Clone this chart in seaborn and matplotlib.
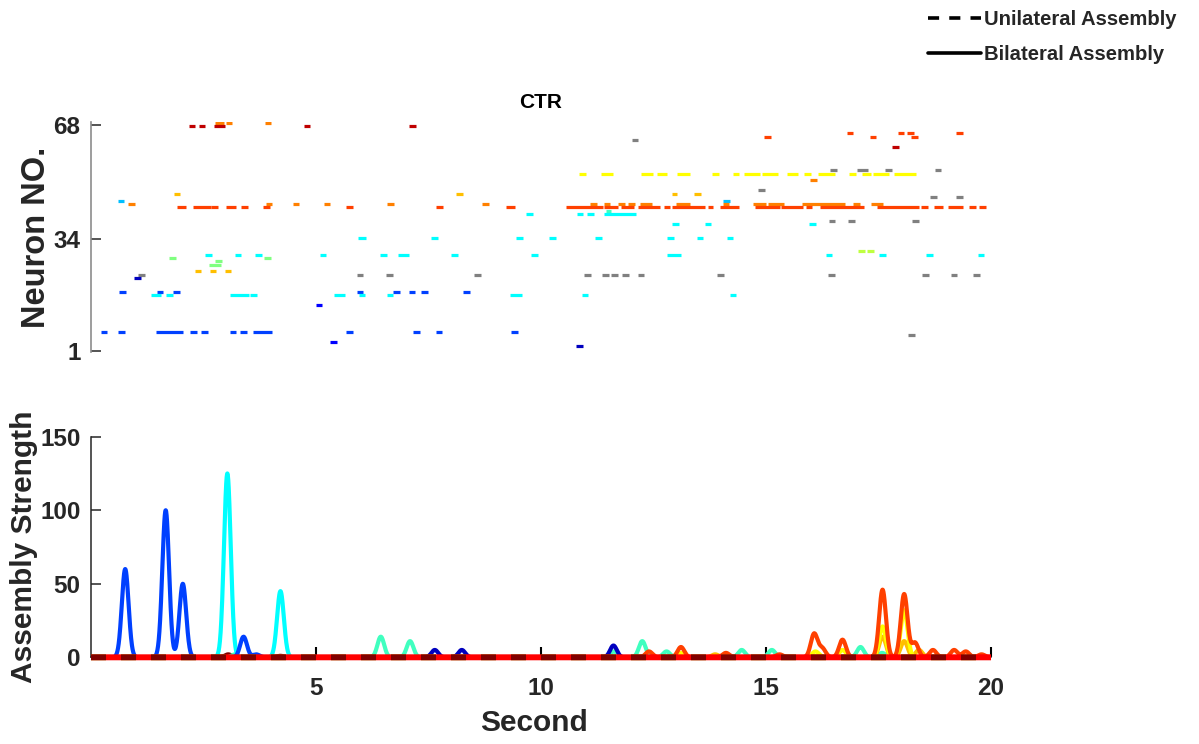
import numpy as np
import pandas as pd
import matplotlib
matplotlib.use("Agg")
import matplotlib.pyplot as plt
from matplotlib.lines import Line2D
import seaborn as sns

# ---------------- data ----------------
neuron_ticks = [1, 34, 68]
strength_ticks = [0, 50, 100, 150]
second_ticks = [5, 10, 15, 20]

assembly_palette = {
    "A01": "#0000bf", "A02": "#0000ff", "A03": "#0040ff", "A04": "#00bfff",
    "A05": "#00ffff", "A06": "#40ffbf", "A07": "#80ff80", "A08": "#bfff40",
    "A09": "#ffff00", "A10": "#ffbf00", "A11": "#ff8000", "A12": "#ff4000",
    "A13": "#ff0000", "A14": "#bf0000", "A15": "#800000", "none": "#808080",
}

# raster: neuron number, assembly, active periods (start, end) in seconds
raster_rows = [
    (68, "A11", [(2.76, 2.96), (2.99, 3.13), (3.86, 3.99)]),
    (67, "A14", [(2.17, 2.30), (2.39, 2.53), (2.73, 2.98), (4.73, 4.87), (7.07, 7.22)]),
    (65, "A12", [(16.79, 16.93), (17.93, 18.07), (18.14, 18.28), (19.23, 19.38)]),
    (64, "A12", [(14.95, 15.10), (17.30, 17.45), (18.22, 18.37)]),
    (63, "none", [(12.02, 12.16)]),
    (61, "A14", [(17.81, 17.96)]),
    (54, "none", [(16.42, 16.57), (17.03, 17.27), (17.64, 17.79), (18.75, 18.90)]),
    (53, "A09", [(10.84, 10.99), (11.33, 11.60), (12.22, 12.49), (12.57, 12.80), (13.03, 13.31),
                 (13.81, 13.96), (14.26, 14.40), (14.50, 14.86), (14.90, 15.27), (15.47, 15.71),
                 (15.85, 16.01), (16.16, 16.53), (16.84, 17.01), (17.13, 17.34), (17.38, 17.73),
                 (17.84, 18.33)]),
    (51, "A11", [(15.98, 16.13)]),
    (48, "none", [(14.82, 14.97)]),
    (47, "A10", [(1.84, 1.98), (8.12, 8.27), (12.90, 13.03), (13.41, 13.56)]),
    (46, "none", [(18.65, 18.80), (19.23, 19.38)]),
    (45, "A04", [(0.60, 0.73), (14.05, 14.19)]),
    (44, "A11", [(0.83, 0.97), (3.88, 4.02), (4.49, 4.62), (5.18, 5.32), (6.58, 6.73), (8.70, 8.84),
                 (11.08, 11.25), (11.40, 11.54), (11.71, 11.86), (11.93, 12.08), (12.21, 12.47),
                 (13.00, 13.30), (14.04, 14.18), (14.71, 15.01), (15.05, 15.41), (15.81, 16.76),
                 (16.93, 17.08), (17.33, 17.59)]),
    (43, "A12", [(1.90, 2.10), (2.27, 2.66), (2.67, 2.82), (3.00, 3.23), (3.33, 3.48), (3.82, 3.97),
                 (5.67, 5.82), (7.67, 7.82), (9.23, 9.42), (10.55, 11.38), (11.40, 11.71),
                 (11.78, 12.07), (12.15, 12.64), (12.73, 12.87), (12.90, 13.64), (13.70, 13.83),
                 (13.98, 14.39), (14.76, 15.30), (15.33, 15.82), (15.88, 16.02), (16.21, 17.18),
                 (17.47, 18.41), (18.44, 18.61), (18.73, 18.93), (19.05, 19.37), (19.50, 19.66),
                 (19.74, 19.90)]),
    (42, "A06", [(11.45, 11.56)]),
    (41, "A05", [(9.67, 9.83), (10.80, 10.94), (11.03, 11.18), (11.41, 12.10)]),
    (39, "none", [(16.39, 16.54), (16.83, 16.98), (18.24, 18.39)]),
    (38, "A05", [(12.92, 13.07), (13.64, 13.78), (15.95, 16.10)]),
    (34, "A05", [(5.94, 6.10), (7.55, 7.70), (9.45, 9.60), (10.18, 10.33), (11.21, 11.36),
                 (12.80, 12.95), (13.47, 13.61), (14.13, 14.27)]),
    (30, "A08", [(17.05, 17.21), (17.25, 17.40)]),
    (29, "A05", [(2.53, 2.68), (3.19, 3.33), (3.64, 3.79), (5.08, 5.23), (6.43, 6.57), (6.82, 7.06),
                 (8.01, 8.16), (9.78, 9.93), (12.79, 13.10), (16.33, 16.47), (17.51, 17.66),
                 (18.56, 18.71), (19.70, 19.84)]),
    (28, "A07", [(1.74, 1.89), (3.84, 3.99)]),
    (27, "A07", [(2.76, 2.90)]),
    (26, "A07", [(2.62, 2.88)]),
    (24, "A10", [(2.30, 2.44), (2.64, 2.78), (2.98, 3.12)]),
    (23, "none", [(1.04, 1.19), (5.90, 6.04), (6.56, 6.71), (8.52, 8.67), (10.96, 11.11),
                  (11.36, 11.51), (11.56, 11.70), (11.81, 11.96), (12.15, 12.29), (13.91, 14.06),
                  (16.38, 16.53), (18.47, 18.62), (19.10, 19.24), (19.60, 19.75)]),
    (22, "A01", [(0.96, 1.11)]),
    (18, "A03", [(0.62, 0.77), (1.46, 1.61), (1.82, 1.97), (5.90, 6.04), (6.71, 6.87), (7.07, 7.21),
                 (7.34, 7.49), (8.27, 8.42)]),
    (17, "A05", [(1.33, 1.55), (1.67, 1.82), (3.08, 3.51), (3.54, 3.69), (5.40, 5.64), (5.95, 6.09),
                 (6.57, 6.72), (9.30, 9.58), (10.90, 11.04), (14.19, 14.33)]),
    (14, "A02", [(4.99, 5.14)]),
    (6, "A03", [(0.22, 0.36), (0.60, 0.76), (1.45, 2.04), (2.21, 2.36), (2.45, 2.60), (3.08, 3.22),
                (3.30, 3.47), (3.60, 4.03), (5.67, 5.82), (7.16, 7.30), (7.66, 7.81), (9.33, 9.48)]),
    (5, "none", [(18.16, 18.30)]),
    (3, "A02", [(5.32, 5.47)]),
    (2, "A01", [(10.78, 10.93)]),
]

# assembly strength peaks of the bilateral assemblies: (peak times in s, peak heights)
strength_peaks = {
    "A15": ([3.05, 4.21], [2, 1]),
    "A06": ([3.20, 6.44, 7.09, 11.62, 12.25, 12.79, 14.46, 15.13, 17.10, 17.58],
            [2, 14, 11, 4, 11, 4, 5, 5, 7, 3]),
    "A05": ([3.03, 4.21], [125, 45]),
    "A01": ([7.64, 8.24, 11.61], [5, 5, 8]),
    "A03": ([0.76, 1.66, 2.04, 3.39, 3.67], [60, 100, 50, 14, 2]),
    "A10": ([13.87, 17.59, 18.07, 18.40], [2, 14, 11, 5]),
    "A09": ([13.10, 16.10, 16.70, 17.59, 18.07], [3, 4, 5, 21, 32]),
    "A12": ([12.40, 13.11, 14.11, 15.30, 16.07, 16.25, 16.70, 17.59, 18.07, 18.31, 18.71,
             19.18, 19.44, 19.79],
            [4, 7, 3, 2, 16, 6, 12, 46, 43, 10, 5, 5, 4, 2]),
}
# unilateral assemblies stay at zero strength over the whole recording
unilateral_assemblies = ["A11", "A13", "A15"]
kernel_sigma = 0.075     # s, smoothing kernel of the strength trace
recording_length = 20.0  # s

# ---------------- style ----------------
sns.set_theme(style="white")
plt.rcParams["font.family"] = ["Liberation Sans", "DejaVu Sans"]
plt.rcParams["font.weight"] = "bold"
plt.rcParams["lines.scale_dashes"] = False
TXT = "#262626"

W, H = 1199, 744
fig = plt.figure(figsize=(W / 100, H / 100), dpi=100)
ax1 = fig.add_axes([91 / W, 1 - 352.3 / H, 900 / W, (352.3 - 121.7) / H])
ax2 = fig.add_axes([91 / W, 1 - 657.3 / H, 900 / W, (657.3 - 436.7) / H])

# ---------------- raster ----------------
for neuron, asm, spans in raster_rows:
    starts = [s for s, e in spans]
    ends = [e for s, e in spans]
    ax1.hlines([neuron + 0.5] * len(spans), starts, ends, colors=assembly_palette[asm],
               linewidth=2.3)
ax1.set_xlim(0, recording_length)
ax1.set_ylim(0.5, 68.9)
ax1.set_yticks(neuron_ticks)
ax1.set_xticks([])
for s in ["top", "right", "bottom"]:
    ax1.spines[s].set_visible(False)
ax1.spines["left"].set_color("#8c8c8c")
ax1.spines["left"].set_linewidth(1.2)
ax1.tick_params(axis="y", direction="in", length=7.5, width=1.1, color=TXT,
                labelsize=17.5, labelcolor=TXT, pad=7.5, left=True)
ax1.set_ylabel("Neuron NO.", fontsize=23.5, fontweight="bold", color=TXT)
ax1.yaxis.set_label_coords(-0.0435, 0.5)
ax1.set_title("CTR", fontsize=15, fontweight="bold", color="black", pad=10)

# ---------------- strength traces ----------------
t = np.linspace(0, recording_length, 4001)
frames = []
for asm, (times, heights) in strength_peaks.items():
    y = np.zeros_like(t)
    for c, h in zip(times, heights):
        y += h * np.exp(-0.5 * ((t - c) / kernel_sigma) ** 2)
    frames.append(pd.DataFrame({"Second": t, "Strength": y, "assembly": asm}))
df = pd.concat(frames, ignore_index=True)
order = list(strength_peaks.keys())
sns.lineplot(data=df, x="Second", y="Strength", hue="assembly", hue_order=order,
             palette={k: assembly_palette[k] for k in order}, linewidth=3.0,
             estimator=None, sort=False, legend=False, ax=ax2)

# zero-strength unilateral assemblies (dashed, overlapping on the baseline)
zero = np.zeros_like(t)
dash_styles = {"A11": (0, (10.8, 10.8)), "A13": (10.8, (10.8, 10.8)), "A15": (0, (10.8, 10.8))}
for asm in unilateral_assemblies:
    ax2.plot(t, zero, color=assembly_palette[asm], linewidth=4.3, linestyle=dash_styles[asm],
             clip_on=False, zorder=3, solid_capstyle="butt", dash_capstyle="butt")

ax2.set_xlim(0, recording_length)
ax2.set_ylim(0, 150)
ax2.set_xticks(second_ticks)
ax2.set_yticks(strength_ticks)
for s in ["top", "right"]:
    ax2.spines[s].set_visible(False)
for s in ["left", "bottom"]:
    ax2.spines[s].set_color(TXT)
    ax2.spines[s].set_linewidth(1.1)
ax2.tick_params(axis="y", direction="in", length=7.5, width=1.1, color=TXT,
                labelsize=17.5, labelcolor=TXT, pad=7.5, left=True)
ax2.tick_params(axis="x", direction="in", length=7, width=1.5, color="black",
                labelsize=17.5, labelcolor=TXT, pad=14, bottom=True)
ax2.set_ylabel("Assembly Strength", fontsize=21.5, fontweight="bold", color=TXT)
ax2.yaxis.set_label_coords(-0.059, 0.5)
ax2.set_xlabel("Second", fontsize=21.5, fontweight="bold", color=TXT)
ax2.xaxis.set_label_coords(0.492, -0.235)
for lab in ax1.get_yticklabels() + ax2.get_yticklabels() + ax2.get_xticklabels():
    lab.set_fontweight("bold")

# ---------------- legend ----------------
handles = [Line2D([], [], color="black", linewidth=2.6, linestyle=(0, (8, 7.3))),
           Line2D([], [], color="black", linewidth=2.6)]
fig.legend(handles, ["Unilateral Assembly", "Bilateral Assembly"],
           loc="upper left", bbox_to_anchor=(928 / W, 1 - 10 / H), frameon=False,
           prop={"size": 14.6, "weight": "bold"}, handlelength=2.62, handletextpad=0.12,
           labelspacing=0.8, borderpad=0, borderaxespad=0)

fig.savefig("out.png", dpi=100, facecolor="white")
